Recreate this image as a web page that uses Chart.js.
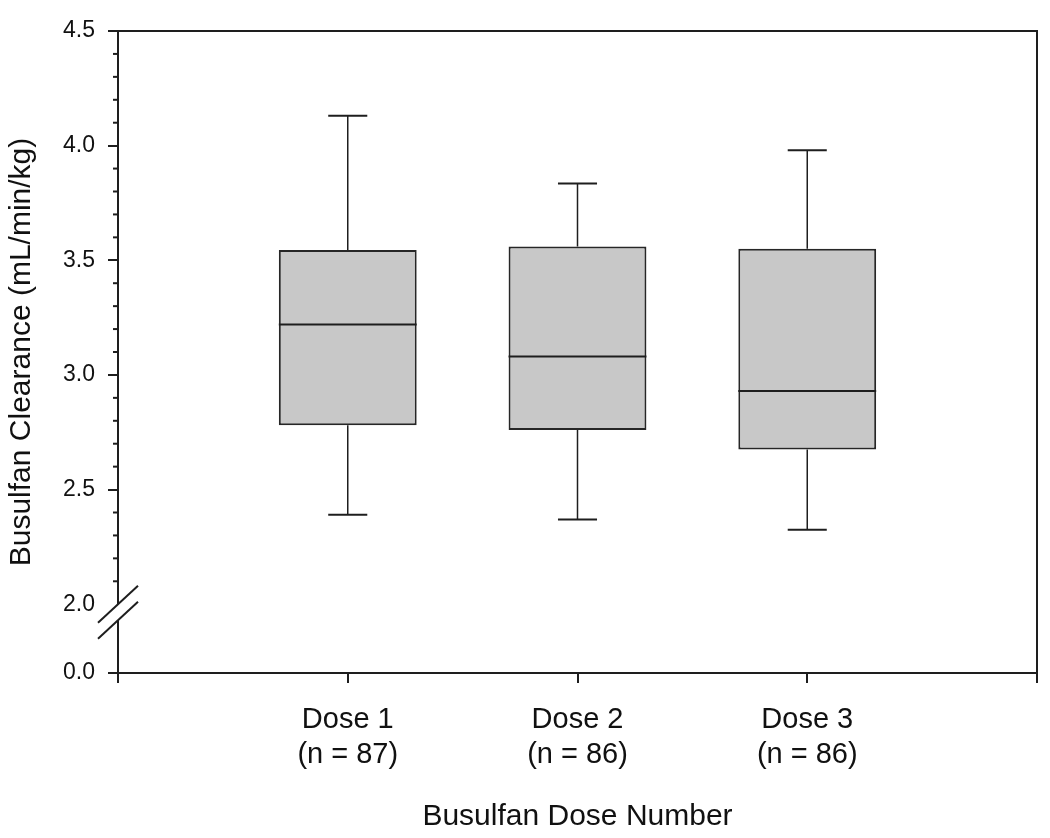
<!DOCTYPE html>
<html>
<head>
<meta charset="utf-8">
<script src="https://cdn.jsdelivr.net/npm/chart.js@4"></script>
<style>
  html, body { margin: 0; padding: 0; background: #fff; }
  #wrap { width: 1050px; height: 838px; }
</style>
</head>
<body>
<div id="wrap"><canvas id="chart"></canvas></div>
<script>
// data
const doses = ['Dose 1', 'Dose 2', 'Dose 3'];
const nCounts = [87, 86, 86];
const whiskerLow = [2.39, 2.37, 2.325];
const q1 = [2.78, 2.76, 2.675];
const median = [3.22, 3.08, 2.93];
const q3 = [3.545, 3.56, 3.55];
const whiskerHigh = [4.13, 3.835, 3.98];
const yTickLabels = [0.0, 2.0, 2.5, 3.0, 3.5, 4.0, 4.5];

// the axis is broken: 0.0 sits just under 2.0
const axisFloor = 1.7;
const ink = '#1e1e1e';
const family = "'Liberation Sans', Arial, sans-serif";

const extras = {
    id: 'extras',
    afterDatasetsDraw(chart) {
        const { ctx, scales: { x, y } } = chart;
        ctx.save();
        ctx.strokeStyle = ink;
        const seg = (x1, y1, x2, y2) => {
            ctx.beginPath(); ctx.moveTo(x1, y1); ctx.lineTo(x2, y2); ctx.stroke();
        };
        doses.forEach((d, i) => {
            const c = i + 1;
            const px = x.getPixelForValue(c);
            const capL = x.getPixelForValue(c - 0.085);
            const capR = x.getPixelForValue(c + 0.085);
            const boxL = x.getPixelForValue(c - 0.3);
            const boxR = x.getPixelForValue(c + 0.3);
            ctx.lineWidth = 1.5;
            seg(px, y.getPixelForValue(q3[i]), px, y.getPixelForValue(whiskerHigh[i]));
            seg(px, y.getPixelForValue(q1[i]), px, y.getPixelForValue(whiskerLow[i]));
            ctx.lineWidth = 2;
            seg(capL, y.getPixelForValue(whiskerHigh[i]), capR, y.getPixelForValue(whiskerHigh[i]));
            seg(capL, y.getPixelForValue(whiskerLow[i]), capR, y.getPixelForValue(whiskerLow[i]));
            seg(boxL, y.getPixelForValue(median[i]), boxR, y.getPixelForValue(median[i]));
        });
        ctx.restore();
    },
    afterDraw(chart) {
        const { ctx, chartArea: a, scales: { y } } = chart;
        ctx.save();
        ctx.strokeStyle = ink;
        ctx.lineWidth = 2;
        // top and right frame
        ctx.beginPath();
        ctx.moveTo(a.left, a.top);
        ctx.lineTo(a.right, a.top);
        ctx.lineTo(a.right, a.bottom);
        ctx.stroke();
        // minor ticks every 0.1
        for (let k = 21; k < 45; k++) {
            if (k % 5 === 0) continue;
            const py = y.getPixelForValue(k / 10);
            ctx.beginPath(); ctx.moveTo(a.left - 5, py); ctx.lineTo(a.left, py); ctx.stroke();
        }
        // axis break marks
        const cx = a.left, cy = y.getPixelForValue(2.0);
        const dx = 20, dy = 18.5, gap = 16;
        ctx.fillStyle = '#fff';
        ctx.beginPath();
        ctx.moveTo(cx - dx, cy + dy);
        ctx.lineTo(cx + dx, cy - dy);
        ctx.lineTo(cx + dx, cy - dy + gap);
        ctx.lineTo(cx - dx, cy + dy + gap);
        ctx.closePath();
        ctx.fill();
        ctx.lineWidth = 2;
        ctx.beginPath(); ctx.moveTo(cx - dx, cy + dy); ctx.lineTo(cx + dx, cy - dy); ctx.stroke();
        ctx.beginPath(); ctx.moveTo(cx - dx, cy + dy + gap); ctx.lineTo(cx + dx, cy - dy + gap); ctx.stroke();
        ctx.restore();
    }
};

new Chart(document.getElementById('chart'), {
    type: 'bar',
    data: {
        datasets: [{
            data: doses.map((d, i) => ({ x: i + 1, y: [q1[i], q3[i]] })),
            backgroundColor: '#c8c8c8',
            borderColor: '#262626',
            borderWidth: 2,
            borderSkipped: false,
            barPercentage: 0.6,
            categoryPercentage: 1
        }]
    },
    options: {
        responsive: true,
        maintainAspectRatio: false,
        animation: false,
        layout: { padding: { top: 31, right: 13, left: 0, bottom: 0 } },
        plugins: { legend: { display: false }, tooltip: { enabled: false } },
        scales: {
            x: {
                type: 'linear',
                min: 0,
                max: 4,
                offset: false,
                afterBuildTicks: s => { s.ticks = [0, 1, 2, 3, 4].map(v => ({ value: v })); },
                afterFit: s => { s.height = 165; s.paddingLeft = 0; s.paddingRight = 0; },
                ticks: {
                    autoSkip: false,
                    maxRotation: 0,
                    padding: 20,
                    color: '#111',
                    font: { family, size: 29 },
                    callback: v => (v >= 1 && v <= 3) ? [doses[v - 1], `(n = ${nCounts[v - 1]})`] : ''
                },
                grid: { offset: false, drawOnChartArea: false, tickLength: 10, color: ink, lineWidth: 2 },
                border: { color: ink, width: 2 },
                title: {
                    display: true,
                    text: 'Busulfan Dose Number',
                    color: '#111',
                    font: { family, size: 30 },
                    padding: { top: 0, bottom: 3 }
                }
            },
            y: {
                min: axisFloor,
                max: 4.5,
                afterBuildTicks: s => { s.ticks = yTickLabels.map(v => ({ value: v < 2 ? axisFloor : v })); },
                afterFit: s => { s.width = 118; },
                ticks: {
                    autoSkip: false,
                    padding: 13,
                    color: '#111',
                    font: { family, size: 23 },
                    callback: v => v < 2 ? '0.0' : v.toFixed(1)
                },
                grid: {
                    drawOnChartArea: false,
                    tickLength: 10,
                    lineWidth: 2,
                    tickColor: c => (c.tick && c.tick.value === 2) ? 'rgba(0,0,0,0)' : ink
                },
                border: { color: ink, width: 2 },
                title: {
                    display: true,
                    text: 'Busulfan Clearance (mL/min/kg)',
                    color: '#111',
                    font: { family, size: 30 },
                    padding: { top: 4, bottom: 0 }
                }
            }
        }
    },
    plugins: [extras]
});
</script>
</body>
</html>
